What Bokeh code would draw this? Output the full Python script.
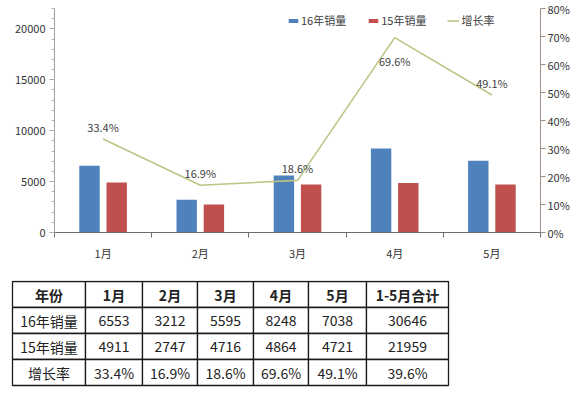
from bokeh.plotting import figure
from bokeh.models import (ColumnDataSource, Range1d, LinearAxis, FixedTicker,
                          SingleIntervalTicker, PrintfTickFormatter, Legend, LegendItem)
from bokeh.core.properties import value
from bokeh.embed import file_html
from bokeh.resources import INLINE
import numpy as np

months = ["1月", "2月", "3月", "4月", "5月"]
sales16 = [6553, 3212, 5595, 8248, 7038]
sales15 = [4911, 2747, 4716, 4864, 4721]
growth = [33.4, 16.9, 18.6, 69.6, 49.1]
total_growth = 39.6
series_names = ["16年销量", "15年销量", "增长率"]
header = ["年份"] + months + ["1-5月合计"]

FONT = "Noto Sans CJK SC"
BLUE = "#4F81BD"
RED = "#C0504D"
LINE = "#bcc584"

xc = np.arange(len(months)) + 0.5

p = figure(width=578, height=280, output_backend="svg", toolbar_location=None,
           x_range=Range1d(0, len(months)), y_range=Range1d(0, 22000),
           min_border_left=54, min_border_right=38, min_border_top=8, min_border_bottom=48)
p.outline_line_color = None
p.xgrid.visible = False
p.ygrid.visible = False
p.background_fill_color = "white"

src = ColumnDataSource(dict(x=xc, g=growth))
b16 = p.vbar(x=xc - 0.14, top=sales16, width=0.21, fill_color=BLUE, line_color=None)
b15 = p.vbar(x=xc + 0.14, top=sales15, width=0.21, fill_color=RED, line_color=None)

p.extra_y_ranges = {"pct": Range1d(0, 80)}
ln = p.line(x="x", y="g", source=src, y_range_name="pct", line_color=LINE, line_width=1.6)

# data labels: above, except 4月 below
placement = ["above", "above", "above", "below", "above"]
dy = [-12 if s == "above" else 23 for s in placement]
lsrc = ColumnDataSource(dict(x=xc, g=growth, t=[f"{v:.1f}%" for v in growth], dy=dy))
p.text(x="x", y="g", text="t", source=lsrc, y_range_name="pct", y_offset="dy",
       text_align="center", text_baseline="middle", text_font=value(FONT),
       text_font_size="11px", text_color="#404040")

# axes
xa = p.xaxis[0]
xa.ticker = FixedTicker(ticks=list(xc), minor_ticks=list(range(len(months) + 1)))
xa.major_label_overrides = {float(v): m for v, m in zip(xc, months)}
xa.major_tick_out = 0
xa.major_tick_in = 0
xa.minor_tick_out = 5
xa.minor_tick_in = 0
xa.axis_line_color = "#6d6d6d"
xa.minor_tick_line_color = "#6d6d6d"
xa.major_label_standoff = 7
xa.major_label_text_font = FONT
xa.major_label_text_font_size = "11px"
xa.major_label_text_color = "#333333"

ya = p.yaxis[0]
ya.ticker = SingleIntervalTicker(interval=5000, num_minor_ticks=5)
ya.major_tick_out = 5
ya.major_tick_in = 0
ya.minor_tick_out = 3
ya.minor_tick_in = 0
ya.axis_line_color = "#9aa0a8"
ya.major_tick_line_color = "#9aa0a8"
ya.minor_tick_line_color = "#b0b4ba"
ya.major_label_standoff = 4
ya.major_label_text_font = FONT
ya.major_label_text_font_size = "11px"
ya.major_label_text_color = "#333333"

ra = LinearAxis(y_range_name="pct", ticker=SingleIntervalTicker(interval=10, num_minor_ticks=0),
                formatter=PrintfTickFormatter(format="%d%%"))
ra.major_tick_out = 5
ra.major_tick_in = 0
ra.axis_line_color = "#a08f86"
ra.major_tick_line_color = "#a08f86"
ra.major_label_standoff = 2
ra.major_label_text_font = FONT
ra.major_label_text_font_size = "11px"
ra.major_label_text_color = "#333333"
p.add_layout(ra, "right")

legend = Legend(items=[LegendItem(label=series_names[0], renderers=[b16]),
                       LegendItem(label=series_names[1], renderers=[b15]),
                       LegendItem(label=series_names[2], renderers=[ln])],
                orientation="horizontal", location=(233, 204))
legend.border_line_color = None
legend.background_fill_alpha = 0
legend.padding = 0
legend.margin = 0
legend.spacing = 21
legend.glyph_width = 12
legend.glyph_height = 5
legend.label_height = 16
legend.label_standoff = 2
legend.label_text_font = FONT
legend.label_text_font_size = "11px"
legend.label_text_color = "#404040"
legend.label_text_baseline = "middle"
p.add_layout(legend, "center")

# ---- table ----
col_w = [73, 57, 55, 56, 55, 58, 82]
row_h = [26, 26, 26, 26]
x0, y0 = 12, 1
xe = np.concatenate([[x0], x0 + np.cumsum(col_w)])
ye = np.concatenate([[y0], y0 + np.cumsum(row_h)])

rows = [header,
        [series_names[0]] + [str(v) for v in sales16] + [str(sum(sales16))],
        [series_names[1]] + [str(v) for v in sales15] + [str(sum(sales15))],
        [series_names[2]] + [f"{v:.1f}%" for v in growth] + [f"{total_growth:.1f}%"]]

t = figure(width=578, height=114, output_backend="svg", toolbar_location=None,
           x_range=Range1d(0, 578), y_range=Range1d(114, 0),
           x_axis_location=None, y_axis_location=None, min_border=0)
t.grid.visible = False
t.outline_line_color = None

cx, cy, cw, ch, txt, st = [], [], [], [], [], []
for r, row in enumerate(rows):
    for c, s in enumerate(row):
        cx.append((xe[c] + xe[c + 1]) / 2)
        cy.append((ye[r] + ye[r + 1]) / 2)
        cw.append(xe[c + 1] - xe[c])
        ch.append(ye[r + 1] - ye[r])
        txt.append(s)
        st.append("bold" if r == 0 else "normal")
cs = ColumnDataSource(dict(x=cx, y=cy, w=cw, h=ch, t=txt, st=st))
t.rect(x="x", y="y", width="w", height="h", source=cs, fill_color="white",
       line_color="#1a1a1a", line_width=1.3)
t.text(x="x", y="y", text="t", source=cs, text_align="center", text_baseline="middle",
       text_font=value(FONT), text_font_size="14px", text_font_style="st",
       text_color="#222222")

open("out.html", "w").write(file_html([p, t], INLINE))
